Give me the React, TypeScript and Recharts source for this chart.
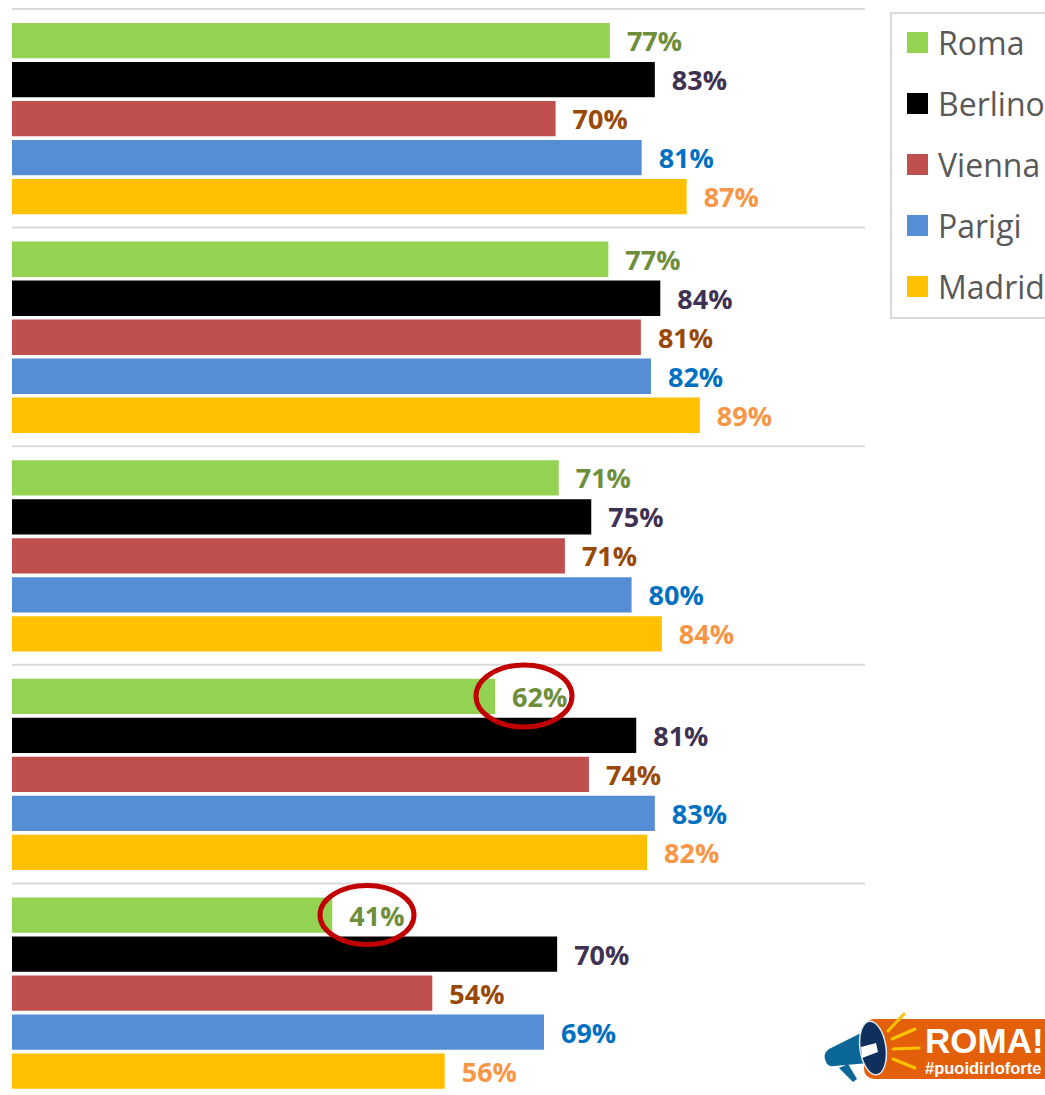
import { Bar, BarChart, CartesianGrid, LabelList, Legend, XAxis, YAxis } from "recharts";

const GROUPS = ["Gruppo 1", "Gruppo 2", "Gruppo 3", "Gruppo 4", "Gruppo 5"];
const ROMA = [77.1, 76.9, 70.5, 62.3, 41.3];
const BERLINO = [82.9, 83.6, 74.7, 80.5, 70.3];
const VIENNA = [70.1, 81.1, 71.3, 74.4, 54.2];
const PARIGI = [81.2, 82.4, 79.9, 82.9, 68.6];
const MADRID = [87.0, 88.7, 83.8, 81.9, 55.8];

const SERIES = [
  { name: "Roma", values: ROMA, color: "#94d352", labelColor: "#6f8e3b" },
  { name: "Berlino", values: BERLINO, color: "#000000", labelColor: "#3f3151" },
  { name: "Vienna", values: VIENNA, color: "#c0504d", labelColor: "#984807" },
  { name: "Parigi", values: PARIGI, color: "#558ed5", labelColor: "#0070c0" },
  { name: "Madrid", values: MADRID, color: "#ffc000", labelColor: "#f79646" },
];

const data = GROUPS.map((group, i) => {
  const row: Record<string, string | number> = { group };
  SERIES.forEach((s) => {
    row[s.name] = s.values[i];
  });
  return row;
});

const FONT = '"Open Sans", sans-serif';

function CityLegend() {
  return (
    <div
      style={{
        boxSizing: "border-box",
        width: 180,
        height: 307,
        border: "2px solid #d9d9d9",
        background: "#fff",
      }}
    >
      <div style={{ marginTop: -2 }}>
        {SERIES.map((s) => (
          <div key={s.name} style={{ display: "flex", alignItems: "center", height: 61, paddingLeft: 15 }}>
            <span style={{ width: 21, height: 21, background: s.color, marginRight: 10 }} />
            <span style={{ fontFamily: FONT, fontSize: 32, color: "#595959", lineHeight: "61px" }}>{s.name}</span>
          </div>
        ))}
      </div>
    </div>
  );
}

// annotations and the logo sit on top of the chart
function Overlay() {
  return (
    <svg width={1045} height={1095} style={{ position: "absolute", left: 0, top: 0, pointerEvents: "none" }}>
      <ellipse cx={524} cy={696} rx={48} ry={31} fill="none" stroke="#c00000" strokeWidth={5} />
      <ellipse cx={367} cy={915} rx={47} ry={29.5} fill="none" stroke="#c00000" strokeWidth={5} />

      <rect x={864} y={1019} width={220} height={60} rx={10} fill="#e35f0a" />
      <text x={925} y={1052.5} fontFamily="Liberation Sans" fontWeight={700} fontSize={35} fill="#fff">
        ROMA!
      </text>
      <text x={925} y={1074} fontFamily="Liberation Sans" fontWeight={700} fontSize={16.5} fill="#fff">
        #puoidirloforte
      </text>
      <g stroke="#fdc300" strokeWidth={3} strokeLinecap="round">
        <line x1={888} y1={1031} x2={904} y2={1014} />
        <line x1={892} y1={1039} x2={915} y2={1029} />
        <line x1={893} y1={1049} x2={919} y2={1048} />
        <line x1={893} y1={1059} x2={915} y2={1068} />
      </g>
      <path d="M848 1064 L857 1079 L853 1082 L839 1068 Z" fill="#0b6797" />
      <path d="M861 1033 L829 1049 Q822 1054 826 1062 Q828 1067 834 1066 L869 1063 Z" fill="#0b6797" />
      <ellipse cx={873} cy={1048} rx={13} ry={27} transform="rotate(-8 873 1048)" fill="#0f2f5c" stroke="#dfe8ee" strokeWidth={1.5} />
      <path d="M861 1047 L876 1043 L878 1052 L862 1058 Z" fill="#fff" />
    </svg>
  );
}

export default function App() {
  return (
    <div
      style={{
        position: "absolute",
        left: 0,
        top: 0,
        width: 1045,
        height: 1095,
        overflow: "hidden",
        background: "#fff",
      }}
    >
      <BarChart
        width={1045}
        height={1102}
        data={data}
        layout="vertical"
        margin={{ top: 9, right: 0, bottom: 0, left: 12 }}
        barSize={35.3}
        barGap={3.7}
      >
        <CartesianGrid
          vertical={false}
          stroke="#d9d9d9"
          strokeWidth={2}
          horizontalCoordinatesGenerator={({ offset }: any) =>
            GROUPS.map((_, i) => offset.top + (i * offset.height) / GROUPS.length)
          }
        />
        <XAxis type="number" domain={[0, 110]} hide />
        <YAxis type="category" dataKey="group" width={0} tick={false} tickLine={false} axisLine={{ stroke: "#d9d9d9", strokeWidth: 2 }} />
        <Legend
          layout="vertical"
          align="right"
          verticalAlign="top"
          content={() => <CityLegend />}
          wrapperStyle={{ left: 890, top: 12, width: 180, right: "auto" }}
        />
        {SERIES.map((s) => (
          <Bar key={s.name} dataKey={s.name} fill={s.color} isAnimationActive={false}>
            <LabelList
              dataKey={s.name}
              position="right"
              offset={17}
              dy={1}
              formatter={(v: any) => `${Math.round(Number(v))}%`}
              fill={s.labelColor}
              style={{ fontFamily: FONT, fontWeight: 700, fontSize: 27 }}
            />
          </Bar>
        ))}
      </BarChart>
      <Overlay />
    </div>
  );
}
